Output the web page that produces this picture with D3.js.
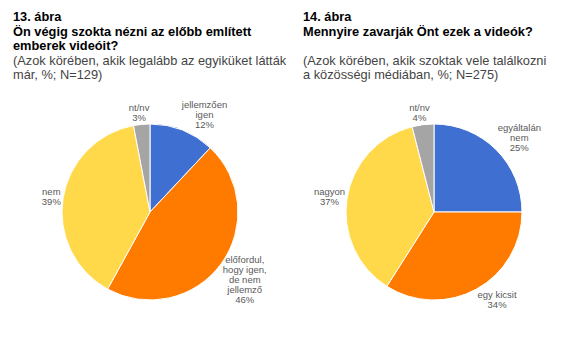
<!DOCTYPE html>
<html><head><meta charset="utf-8">
<script src="https://cdn.jsdelivr.net/npm/d3@7/dist/d3.min.js"></script>
<style>body{margin:0;background:#fff}svg{display:block}</style>
</head><body>
<svg id="c" width="583" height="348"></svg>
<script>
// ---- data ----
const chart1Title = ["13. ábra", "Ön végig szokta nézni az előbb említett", "emberek videóit?"];
const chart1Sub = ["(Azok körében, akik legalább az egyiküket látták", "már, %; N=129)"];
const chart1Labels = [["jellemzően", "igen"], ["előfordul,", "hogy igen,", "de nem", "jellemző"], ["nem"], ["nt/nv"]];
const chart1Values = [12, 46, 39, 3];

const chart2Title = ["14. ábra", "Mennyire zavarják Önt ezek a videók?"];
const chart2Sub = ["", "(Azok körében, akik szoktak vele találkozni", "a közösségi médiában, %; N=275)"];
const chart2Labels = [["egyáltalán", "nem"], ["egy kicsit"], ["nagyon"], ["nt/nv"]];
const chart2Values = [25, 34, 37, 4];

const colors = ["#3f6fd0", "#ff7b00", "#ffd94a", "#a5a5a5"];

const svg = d3.select("#c");
const font = "Liberation Sans, Arial, sans-serif";

function drawChart(x0, cx, cy, r, title, sub, labels, values) {
  const g = svg.append("g");
  const t = g.append("text").attr("font-family", font).attr("font-size", 12.8).attr("font-weight", "bold").attr("fill", "#000");
  title.forEach((s, i) => t.append("tspan").attr("x", x0).attr("y", 21 + i * 14.5).text(s));
  const s2 = g.append("text").attr("font-family", font).attr("font-size", 12.8).attr("fill", "#444");
  sub.forEach((s, i) => s2.append("tspan").attr("x", x0).attr("y", 21 + (title.length + i) * 14.5).text(s));
  // quirk: first chart titles 3 lines, second 2 + blank -> same baselines

  const pie = d3.pie().sort(null).value(d => d)(values);
  const arc = d3.arc().innerRadius(0).outerRadius(r);
  const pg = g.append("g").attr("transform", `translate(${cx},${cy})`);
  pg.selectAll("path").data(pie).join("path")
    .attr("d", arc).attr("fill", (d, i) => colors[i])
    .attr("stroke", "#fff").attr("stroke-width", 1);

  const fs = 9.5, lh = 10;
  pie.forEach((d, i) => {
    const lines = labels[i].concat([values[i] + "%"]);
    const a = (d.startAngle + d.endAngle) / 2;
    const sn = Math.sin(a), cs = Math.cos(a);
    const txt = pg.append("text").attr("font-family", font).attr("font-size", fs).attr("fill", "#595959").attr("text-anchor", "middle");
    lines.forEach((l, j) => txt.append("tspan").attr("x", 0).attr("dy", j === 0 ? 0 : lh).text(l));
    const bb = txt.node().getBBox();
    const hw = bb.width / 2, hh = lines.length * lh / 2;
    const ax = sn * (r + 2), ay = -cs * (r + 2);
    const k = Math.max(-1, Math.min(1, sn * 2.5));
    const ccx = ax + k * hw, ccy = ay - cs * hh;
    txt.attr("transform", `translate(${ccx},${ccy - hh + lh / 2 + fs * 0.35})`);
    txt.selectAll("tspan").attr("x", 0);
  });
}

drawChart(13, 150, 212, 88, chart1Title, chart1Sub, chart1Labels, chart1Values);
drawChart(303, 434, 212, 88, chart2Title, chart2Sub, chart2Labels, chart2Values);
</script>
</body></html>
